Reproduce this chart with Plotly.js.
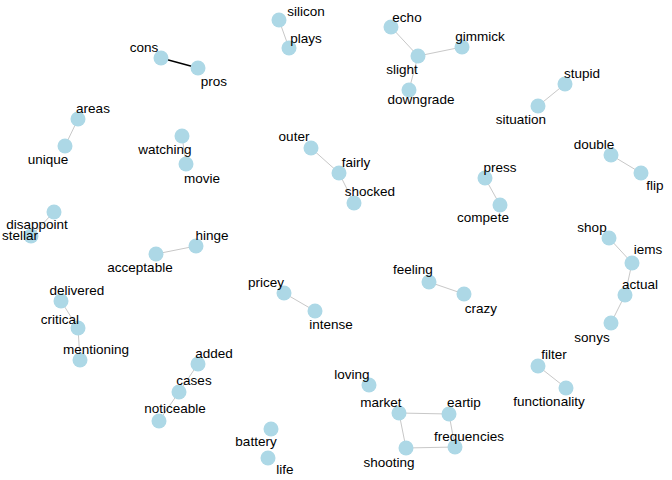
<!DOCTYPE html>
<html>
<head>
<meta charset="utf-8">
<script src="https://cdn.plot.ly/plotly-3.0.1.min.js"></script>
<style>html,body{margin:0;padding:0;background:#fff}#graph{width:672px;height:480px}</style>
</head>
<body>
<div id="graph"></div>
<script>
// node layout (pixel space)
var nodeNames = ['silicon','plays','cons','pros','echo','gimmick','slight','downgrade','stupid','situation',
  'areas','unique','watching','movie','outer','fairly','shocked','press','compete','double','flip',
  'disappoint','stellar','hinge','acceptable','shop','iems','actual','sonys','feeling','crazy',
  'delivered','critical','mentioning','pricey','intense','added','cases','noticeable','filter',
  'functionality','loving','market','eartip','frequencies','shooting','battery','life'];
var nodeX = [279,289,161,198,391,462,418,409,565,538, 78,65,182,186,311,339,354,485,500,611,641,
  54,31,196,156,609,632,625,611,429,464, 61,78,80,284,315,198,179,159,538,
  566,369,399,449,455,406,271,268];
var nodeY = [20,48,58,68,27,47,56,90,84,106, 119,146,136,164,148,173,203,178,205,155,173,
  212,236,246,254,238,263,295,323,282,294, 301,328,360,293,311,364,392,421,366,
  388,385,413,414,447,448,429,458];
var labelX = [306,306,144,214,407,480,402,421,582,521, 93,48,165,202,294,356,370,500,483,594,655,
  37,20,212,140,592,648,640,592,413,481, 77,60,96,266,331,214,194,175,554,
  549,352,381,464,469,389,256,285];
var labelY = [13,40,49,83,19,38,71,101,75,121, 110,161,151,180,138,164,193,169,219,146,187,
  226,237,237,269,229,251,286,339,271,310, 292,321,351,284,326,355,382,410,356,
  403,376,404,404,438,464,443,471];

var edgeFrom = ['silicon','echo','gimmick','slight','stupid','areas','watching','outer','fairly','press',
  'double','disappoint','hinge','shop','iems','actual','feeling','delivered','critical','pricey',
  'added','cases','filter','market','eartip','frequencies','shooting'];
var edgeTo = ['plays','slight','slight','downgrade','situation','unique','movie','fairly','shocked','compete',
  'flip','stellar','acceptable','iems','actual','sonys','crazy','critical','mentioning','intense',
  'cases','noticeable','functionality','eartip','frequencies','shooting','market'];
var strongFrom = ['cons'];
var strongTo = ['pros'];

function edge_coords(from, to) {
  var ex = [], ey = [];
  for (var i = 0; i < from.length; i++) {
    var a = nodeNames.indexOf(from[i]), b = nodeNames.indexOf(to[i]);
    ex.push(nodeX[a], nodeX[b], null);
    ey.push(nodeY[a], nodeY[b], null);
  }
  return {x: ex, y: ey};
}

var weak = edge_coords(edgeFrom, edgeTo);
var strong = edge_coords(strongFrom, strongTo);

var traces = [
  {x: weak.x, y: weak.y, mode: 'lines', type: 'scatter', hoverinfo: 'skip',
    line: {color: '#c8c8c8', width: 1}},
  {x: strong.x, y: strong.y, mode: 'lines', type: 'scatter', hoverinfo: 'skip',
    line: {color: '#000000', width: 1.3}},
  {x: nodeX, y: nodeY, mode: 'markers', type: 'scatter', text: nodeNames,
    marker: {size: 15, color: '#add8e6'}},
  {x: labelX, y: labelY, mode: 'text', type: 'scatter', text: nodeNames,
    textfont: {family: 'Liberation Sans, Arial, sans-serif', size: 13.5, color: '#000'}}
];

var layout = {
  width: 672,
  height: 480,
  showlegend: false,
  margin: {l: 0, r: 0, t: 0, b: 0, pad: 0},
  plot_bgcolor: '#fff',
  paper_bgcolor: '#fff',
  xaxis: {range: [0, 672], visible: false, fixedrange: true},
  yaxis: {range: [480, 0], visible: false, fixedrange: true}
};

Plotly.newPlot('graph', traces, layout, {displayModeBar: false, staticPlot: true});
</script>
</body>
</html>
